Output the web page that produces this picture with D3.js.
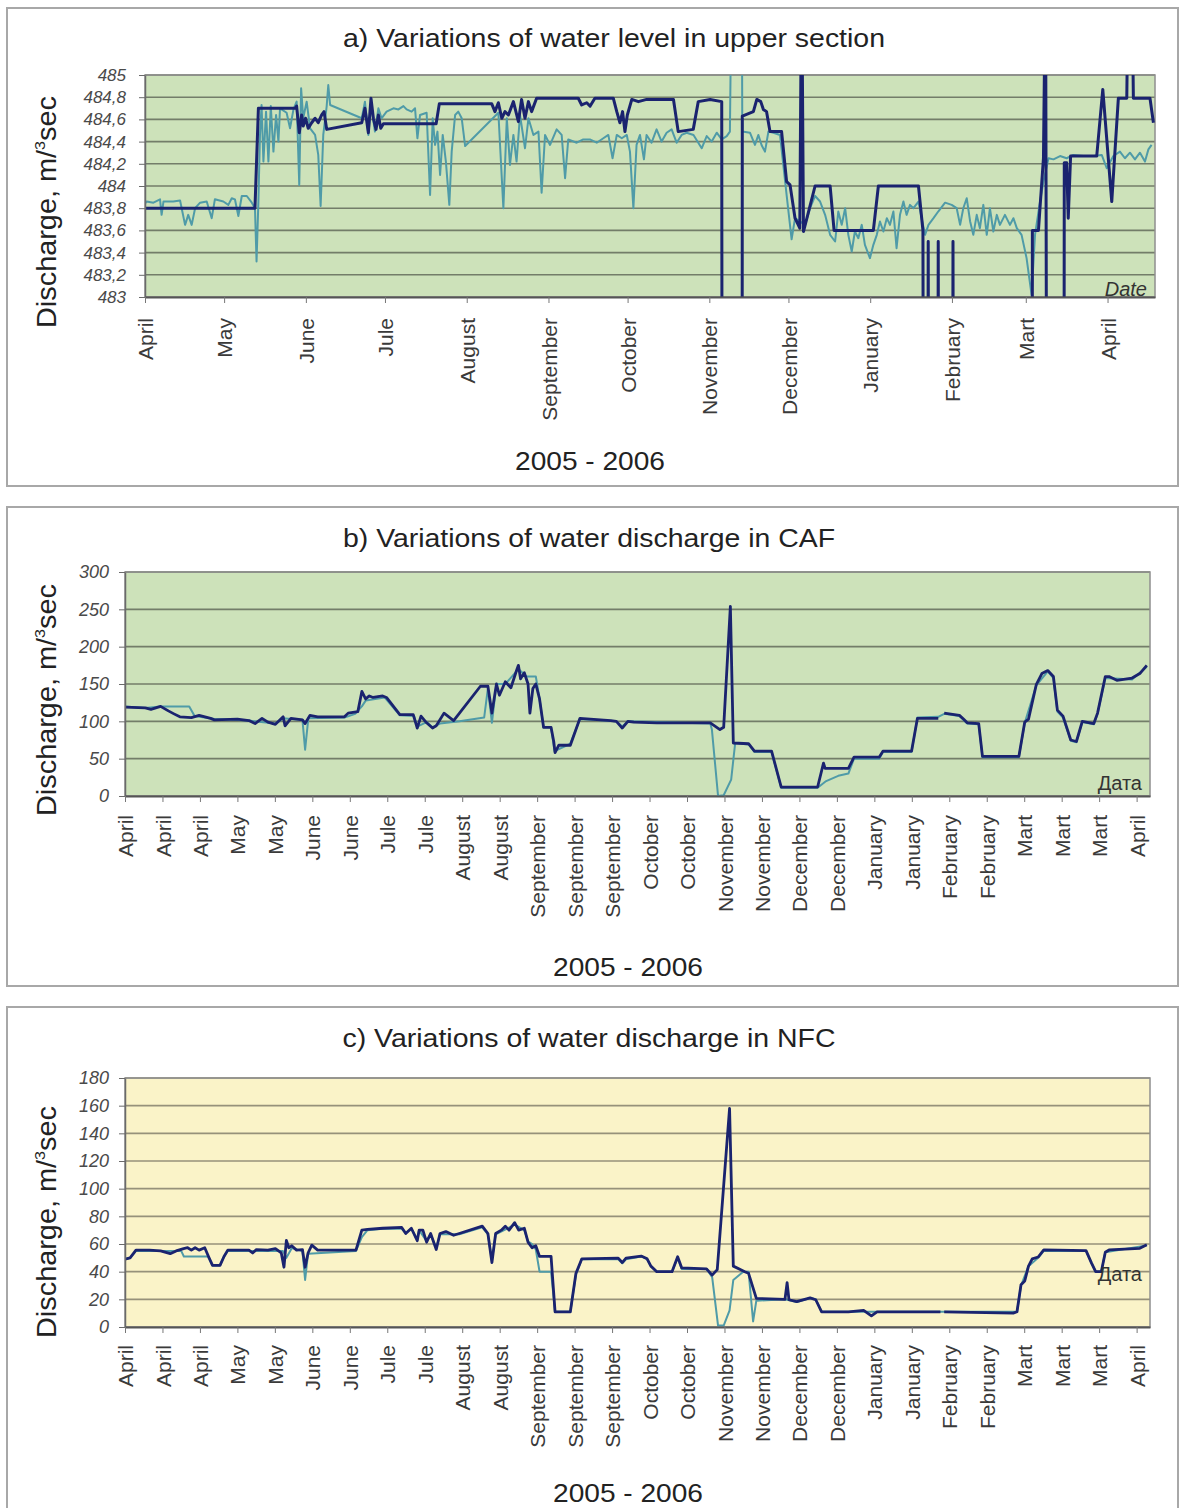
<!DOCTYPE html>
<html><head><meta charset="utf-8">
<script src="https://cdn.jsdelivr.net/npm/d3@7"></script>
<style>
body{margin:0;background:#fff}
text{font-family:"Liberation Sans",Arial,Helvetica,sans-serif}
</style>
</head><body>
<svg id="chart" width="1181" height="1508"></svg>
<script>
// ---------- DATA (day offset from 1 April 2005, value) ----------
const levelNavy = [[0,483.8],[41.7,483.8],[43.0,484.70],[56.9,484.70],[57.5,484.72],[58.5,484.48],[59.4,484.64],[60.0,484.54],[60.9,484.61],[61.9,484.52],[63.2,484.57],[64.5,484.61],[65.7,484.57],[67.0,484.64],[67.9,484.67],[68.9,484.51],[82.2,484.57],[83.4,484.70],[84.7,484.48],[85.7,484.79],[86.6,484.61],[87.6,484.51],[88.5,484.64],[89.4,484.52],[90.4,484.56],[110.4,484.56],[111.6,484.74],[131.5,484.74],[132.7,484.67],[134.0,484.75],[135.3,484.61],[136.5,484.67],[137.8,484.64],[139.7,484.76],[141.6,484.58],[142.8,484.78],[144.1,484.61],[145.4,484.76],[146.6,484.67],[148.5,484.79],[164.3,484.79],[165.6,484.73],[167.5,484.75],[168.8,484.72],[170.6,484.79],[177.6,484.79],[178.9,484.67],[180.1,484.57],[181.1,484.67],[182.0,484.49],[182.9,484.64],[184.6,484.78],[187.1,484.76],[190.2,484.78],[200.4,484.78],[202.2,484.49],[207.9,484.51],[209.8,484.76],[214.3,484.78],[218.7,484.76],[219.3,470],[226.2,470],[226.5,484.63],[230.7,484.67],[232.0,484.78],[233.5,484.76],[234.5,484.69],[235.7,484.67],[237.0,484.49],[241.4,484.49],[243.3,484.04],[244.6,484.01],[246.5,483.71],[248.3,483.62],[249.0,486],[249.7,483.59],[254.1,484.0],[259.8,484.0],[261.3,483.6],[276.2,483.6],[278.1,484.0],[293.3,484.0],[295.0,483.6],[296.0,470],[297.0,483.5],[298.0,470],[299.8,470],[300.8,483.5],[301.6,470],[305.5,470],[306.4,483.5],[307.2,470],[336.2,470],[336.5,483.6],[338.8,483.6],[340.7,484.25],[341.5,486],[343.0,470],[348.0,470],[348.6,484.21],[349.5,484.21],[350.1,483.71],[351.0,484.27],[360.9,484.27],[363.2,484.87],[366.6,483.86],[369.1,484.79],[372.3,484.79],[372.9,486],[374.2,486],[374.8,484.79],[381.1,484.79],[382.4,484.57]];

const levelTeal = [[0,483.84],[0.6,483.86],[3.2,483.85],[5.7,483.88],[6.3,483.74],[7.0,483.86],[10.7,483.86],[13.3,483.87],[15.2,483.65],[16.4,483.74],[17.7,483.65],[19.0,483.80],[20.9,483.85],[23.4,483.86],[25.3,483.71],[26.5,483.88],[29.7,483.86],[31.6,483.83],[32.9,483.89],[34.1,483.88],[35.4,483.73],[36.7,483.91],[38.6,483.91],[40.5,483.85],[41.7,483.80],[42.3,483.32],[43.0,483.86],[43.6,484.46],[44.2,484.73],[44.9,484.22],[45.9,484.67],[46.8,484.22],[47.7,484.72],[48.7,484.31],[49.7,484.64],[50.6,484.40],[51.2,484.70],[53.7,484.66],[55.0,484.52],[56.3,484.69],[57.5,484.76],[58.5,484.01],[59.2,484.88],[60.0,484.61],[61.3,484.76],[62.6,484.52],[64.5,484.46],[65.7,484.28],[66.6,483.82],[67.6,484.46],[68.9,484.72],[69.5,484.91],[70.2,484.73],[82.2,484.61],[83.4,484.76],[84.7,484.46],[85.7,484.73],[87.2,484.49],[88.5,484.70],[89.7,484.61],[91.6,484.67],[94.2,484.70],[96.1,484.69],[98.0,484.72],[99.2,484.69],[101.1,484.67],[102.4,484.70],[103.3,484.43],[104.3,484.64],[106.8,484.66],[108.1,483.92],[109.1,484.61],[110.0,484.37],[110.9,484.49],[111.9,484.10],[112.9,484.46],[114.1,484.22],[115.4,483.83],[116.3,484.31],[117.6,484.64],[118.8,484.67],[120.1,484.61],[121.4,484.36],[134.0,484.66],[135.9,483.80],[137.2,484.61],[138.4,484.19],[139.7,484.46],[140.9,484.22],[142.2,484.64],[144.1,484.34],[145.4,484.61],[147.3,484.46],[149.2,484.49],[150.4,483.94],[151.7,484.46],[153.6,484.37],[156.1,484.51],[158.0,484.46],[159.3,484.07],[160.5,484.42],[163.7,484.39],[166.2,484.42],[168.7,484.42],[171.3,484.39],[173.8,484.43],[175.7,484.46],[177.3,484.25],[178.9,484.46],[180.8,484.43],[182.7,484.46],[183.9,484.31],[185.2,483.80],[186.4,484.37],[187.7,484.46],[189.2,484.24],[190.2,484.46],[192.1,484.39],[194.0,484.51],[195.9,484.40],[197.8,484.48],[199.7,484.51],[201.6,484.39],[203.5,484.46],[205.4,484.48],[208.0,484.46],[211.1,484.34],[213.0,484.45],[214.9,484.40],[216.8,484.48],[218.7,484.42],[220.6,484.45],[221.8,484.49],[222.5,486],[226.3,486],[226.5,484.49],[229.4,484.48],[231.3,484.37],[232.6,484.46],[233.8,484.37],[235.1,484.31],[236.4,484.49],[238.3,484.48],[240.8,484.46],[243.3,483.92],[245.2,483.52],[246.5,483.71],[250.3,483.65],[252.2,483.80],[254.1,483.91],[256.0,483.86],[257.9,483.74],[259.8,483.56],[261.7,483.50],[262.9,483.77],[264.2,483.65],[265.5,483.80],[266.7,483.56],[268.0,483.41],[269.2,483.59],[270.5,483.53],[271.8,483.65],[273.0,483.47],[274.9,483.35],[276.2,483.47],[277.5,483.56],[278.7,483.68],[280.0,483.59],[281.3,483.71],[282.5,483.65],[283.8,483.77],[285.0,483.44],[286.3,483.74],[287.6,483.86],[288.8,483.74],[290.1,483.83],[291.4,483.80],[293.3,483.86],[294.5,483.71],[295.8,483.56],[297.1,483.65],[299.0,483.71],[300.8,483.77],[303.4,483.85],[305.9,483.83],[307.8,483.80],[309.1,483.65],[310.3,483.80],[311.6,483.89],[312.9,483.68],[314.1,483.56],[315.4,483.74],[316.6,483.62],[317.9,483.83],[319.2,483.56],[320.4,483.80],[321.7,483.59],[323.0,483.74],[324.2,483.65],[326.1,483.74],[328.0,483.65],[329.3,483.71],[330.6,483.62],[332.4,483.56],[334.3,483.35],[336.2,483.02],[337.5,483.56],[339.4,483.86],[340.7,484.04],[342.6,484.25],[344.5,484.24],[347.0,484.27],[349.5,484.25],[352.0,484.28],[355.8,484.27],[359.6,484.27],[362.8,484.28],[364.7,484.16],[367.2,484.27],[369.7,484.31],[371.6,484.25],[373.5,484.30],[375.4,484.24],[377.3,484.30],[379.2,484.22],[380.5,484.33],[381.7,484.37]];

const cafNavy = [[0,119],[7.6,118],[9.7,116],[13.3,120],[16.2,114],[18.3,110],[20.5,106],[24.8,105],[27.7,108],[32.0,104],[33.4,102],[42.0,103],[46.3,101],[48.6,97],[51.2,104],[53.4,99],[56.2,96],[59.1,106],[59.8,94],[62.0,104],[66.3,102],[67.3,97],[69.1,108],[72.0,106],[82.0,106],[83.4,111],[87.0,113],[88.5,140],[89.9,130],[91.3,134],[92.7,132],[96.3,134],[97.7,132],[102.7,109],[107.7,109],[109.2,91],[110.6,107],[112.7,98],[114.9,91],[116.3,94],[119.2,111],[122.8,101],[132.8,147],[135.6,147],[137.1,111],[138.8,150],[139.9,135],[142.1,153],[144.2,145],[146.3,168],[147.0,175],[147.8,157],[149.2,165],[150.6,150],[151.3,111],[152.4,144],[153.5,150],[154.9,130],[156.4,92],[159.2,92],[160.2,73],[160.7,58],[162.1,68],[166.4,68],[170.0,104],[181.5,101],[183.6,100],[185.8,91],[187.9,100],[190.1,99],[198.7,98],[218.7,98],[222.3,89],[223.7,92],[226.2,254],[227.3,71],[233.0,70],[235.2,60],[241.6,60],[245.2,12],[258.8,12],[261.0,44],[261.6,37],[270.3,37],[272.4,52],[281.8,52],[283.2,60],[293.9,60],[296.1,104],[303.9,104],[304.6,null],[306.1,111],[311.8,108],[313.3,103],[314.7,98],[319.0,97],[320.4,53],[334.0,53],[336.2,99],[337.6,103],[340.5,149],[342.6,164],[344.8,168],[346.9,160],[348.4,115],[350.5,107],[353.4,75],[355.5,73],[357.7,100],[362.0,97],[363.4,111],[366.3,160],[367.7,160],[370.6,155],[376.3,158],[379.2,164],[381.8,175]];

const cafTeal = [[0,120],[7.6,118],[13.3,120],[24,120],[26,107],[33.4,103],[46.3,101],[56.2,97],[59.1,104],[62,103],[66.3,102],[67.3,62],[68.5,104],[82,105],[86,110],[88.5,120],[90,128],[97,132],[102.7,108],[108,107],[109.2,93],[112.7,99],[114.9,92],[117.7,97],[125,100],[134.2,105],[135.6,144],[137.1,98],[138.8,150],[142.1,150],[147,170],[150,160],[153.5,160],[154.9,130],[156.4,92],[159.2,92],[160.5,60],[166.4,70],[170,103],[183.6,100],[185.8,93],[187.9,100],[218.7,97],[219.3,89],[221.6,0],[223.7,1],[226.5,22],[228,71],[233,69],[235.2,59],[241.6,59],[245.2,11],[258.8,11],[262,20],[266.5,27],[270.3,30],[272.4,50],[281.8,50],[283.2,59],[293.9,59],[296.1,105],[303.9,106],[306.1,110],[311.8,107],[314.7,97],[319,96],[320.4,52],[334,52],[336.2,98],[340.5,148],[344.8,167],[346.9,158],[348.4,113],[350.5,105],[353.4,74],[355.5,72],[357.7,99],[362,96],[363.4,110],[366.3,158],[376.3,156],[381.8,173]];

const nfcNavy = [[0,49],[1.9,50],[4.1,55.6],[9.1,55.6],[13.3,55],[16.9,53],[19.1,55],[21.9,56.7],[23.4,57.3],[24.8,55.6],[26.2,57.3],[27.7,55.6],[29.8,57.3],[31.2,51],[32.7,44.5],[35.5,44.5],[37.0,51],[38.4,55.6],[46.3,55.6],[47.7,53.5],[49.1,56],[53.4,55.6],[56.2,56.7],[58.4,53.5],[59.4,43.2],[60.3,62.6],[61.2,57.3],[62.3,58.7],[64.1,55.6],[66.3,56],[67.3,43.2],[68.4,53.5],[69.8,59.2],[72.0,55.6],[86.3,55.6],[88.5,70.1],[90.6,70.6],[96.3,71.4],[103.4,72],[104.9,67.6],[107.0,71.4],[109.2,62.4],[109.9,70],[111.3,70],[112.7,61.3],[114.2,67.6],[116.3,56],[117.7,67.6],[119.9,69],[122.8,66.3],[124.9,67.6],[133.5,72.9],[135.6,67.6],[137.1,46.6],[138.5,67.6],[140.6,70],[142.1,72.9],[143.5,70],[145.6,75.4],[147.1,70],[149.2,71.4],[150.6,61.3],[152.1,57.3],[153.5,58.7],[154.9,51],[159.2,51],[160.7,11],[166.4,11],[168.5,38.8],[170.7,49.3],[184.3,49.8],[185.8,46.6],[187.2,49.8],[192.9,51.3],[195.1,49.3],[196.5,44],[198.7,40],[204.4,40],[206.5,50.8],[208.0,42.8],[217.3,42],[219.4,37.5],[221.3,41.5],[225.9,158],[227.3,44],[231.6,40],[233.0,38.8],[235.9,20.7],[246.6,20],[247.4,32],[248.1,19.7],[251.0,18.3],[256.0,21],[258.1,19.7],[260.3,11],[270.3,11],[276.0,12],[278.9,8],[281.0,11],[304.7,11],[305.4,null],[306.1,11],[331.9,10],[333.3,11],[334.8,30.6],[336.2,33.3],[337.6,44],[339.0,49.3],[341.2,50.6],[343.3,55.7],[359.1,55.2],[361.2,46],[362.7,40],[364.8,40],[366.3,54],[367.7,55.7],[379.2,56.9],[381.8,59.4]];

const nfcTeal = [[0,49],[1.9,50],[4.1,55],[21,55],[22,51],[31,51],[32.7,44.5],[35.5,44.5],[37,51],[38.4,55],[59,55],[60.3,50],[62.3,57],[66.3,55],[67.3,34],[68.4,53],[86.3,55],[88.5,65],[90.6,70],[96.3,71],[103.4,71],[104.9,68],[107,71],[109.2,63],[109.9,70],[112.7,62],[114.2,67],[116.3,57],[117.7,67],[124.9,67],[133.5,72],[135.6,67],[137.1,48],[138.5,67],[145.6,74],[149.2,70],[150.6,62],[152.1,60],[153.5,56],[154.9,40],[159.2,40],[160.7,11],[166.4,11],[168.5,38],[170.7,49],[184.3,49],[185.8,46],[187.2,49],[192.9,51],[195.1,49],[196.5,44],[198.7,40],[204.4,40],[206.5,50],[208,42],[217.3,42],[219.4,36],[221.6,1],[223.7,1],[225.9,12],[227.3,34],[231,40],[233,40],[234.7,4],[235.9,19],[246.6,20],[251,18],[256,21],[258.1,20],[260.3,11],[281,11],[333.3,11],[334.8,30],[337.6,44],[341.2,50],[343.3,55],[359.1,55],[361.2,46],[362.7,40],[364.8,40],[366.3,54],[381.8,59]];

const monthLabelsA = ["April","May","June","Jule","August","September","October","November","December","January","February","Mart","April"];
const labelsBC = ["April","April","April","May","May","June","June","Jule","Jule","August","August","September","September","September","October","October","November","November","December","December","January","January","February","February","Mart","Mart","Mart","April"];
const yTicksA = d3.range(0, 11).map(i => 483 + i * 0.2);
const yTicksB = d3.range(0, 301, 50);
const yTicksC = d3.range(0, 181, 20);
const titles = ["a) Variations of water level in upper section", "b) Variations of water discharge in CAF", "c) Variations of water discharge in NFC"];
const yearLabel = "2005 - 2006";

// ---------- helpers ----------
const DAYS = 383;
const t0 = Date.UTC(2005, 3, 1);
const toDate = d => new Date(t0 + d * 864e5);
const svg = d3.select("#chart");
svg.append("rect").attr("width",1181).attr("height",1508).attr("fill","#fff");

const NAVY = "#1a236f", TEAL = "#4f9ba8";

function commaFmt(v){
  const r = Math.round(v*10);
  return r % 10 === 0 ? String(r/10) : (r/10).toFixed(1).replace(".", ",");
}

function panel(o){
  const g = svg.append("g");
  g.append("rect").attr("x",7).attr("y",o.frameTop).attr("width",1171).attr("height",o.frameH)
    .attr("fill","#fff").attr("stroke","#a8a8a8").attr("stroke-width",2);

  const x = d3.scaleUtc().domain([toDate(0), toDate(DAYS)]).range([o.left, o.right]);
  const y = d3.scaleLinear().domain(o.yDomain).range([o.bottom, o.top]);

  g.append("rect").attr("x",o.left).attr("y",o.top).attr("width",o.right-o.left).attr("height",o.bottom-o.top)
    .attr("fill",o.bg);
  g.append("g").selectAll("line").data(o.yTicks).join("line")
    .attr("x1",o.left).attr("x2",o.right).attr("y1",d=>y(d)).attr("y2",d=>y(d))
    .attr("stroke",o.grid).attr("stroke-width",1.6);
  g.append("rect").attr("x",o.left).attr("y",o.top).attr("width",o.right-o.left).attr("height",o.bottom-o.top)
    .attr("fill","none").attr("stroke","#8f8f8f").attr("stroke-width",1.5);

  const cid = "clip" + o.id;
  svg.append("clipPath").attr("id",cid).append("rect")
    .attr("x",o.left).attr("y",o.top).attr("width",o.right-o.left).attr("height",o.bottom-o.top+1);
  const line = d3.line().defined(d => d[1] != null).x(d => x(toDate(d[0]))).y(d => y(d[1]));
  const lg = g.append("g").attr("clip-path",`url(#${cid})`);
  lg.append("path").attr("d", line(o.teal)).attr("fill","none").attr("stroke",TEAL)
    .attr("stroke-width",o.tealW).attr("stroke-linejoin","round");
  lg.append("path").attr("d", line(o.navy)).attr("fill","none").attr("stroke",NAVY)
    .attr("stroke-width",o.navyW).attr("stroke-linejoin","round");

  // y axis
  const ya = g.append("g").attr("transform",`translate(${o.left},0)`)
    .call(d3.axisLeft(y).tickValues(o.yTicks).tickFormat(o.yFmt).tickSizeInner(6).tickSizeOuter(0).tickPadding(o.yPad));
  ya.select(".domain").attr("stroke","#6a6a6a").attr("stroke-width",1.5);
  ya.selectAll(".tick line").attr("stroke","#6a6a6a");
  ya.selectAll("text").attr("font-size",o.yFont).attr("font-style","italic").attr("fill","#4a4a4a");

  // x axis
  const xa = g.append("g").attr("transform",`translate(0,${o.bottom})`)
    .call(d3.axisBottom(x).tickValues(o.xTicks.map(toDate)).tickFormat((d,i)=>o.xLabels[i]).tickSizeInner(6).tickSizeOuter(0));
  xa.select(".domain").attr("stroke","#555").attr("stroke-width",2);
  xa.selectAll(".tick line").attr("stroke","#777");
  xa.selectAll("text").attr("transform","rotate(-90)").attr("text-anchor","end")
    .attr("x",-o.xPad).attr("y",0).attr("dy","0.36em").attr("font-size",21).attr("fill","#3a3a3a");

  // titles
  g.append("text").attr("x",o.titleX).attr("y",o.titleY).attr("text-anchor","middle")
    .attr("font-size",26).attr("fill","#222").attr("textLength",o.titleW).attr("lengthAdjust","spacingAndGlyphs")
    .text(o.title);
  g.append("text").attr("x",o.yearX).attr("y",o.yearY).attr("text-anchor","middle")
    .attr("font-size",26).attr("fill","#222").attr("textLength",150).attr("lengthAdjust","spacingAndGlyphs")
    .text(yearLabel);
  const yt = g.append("text").attr("transform",`translate(56,${o.yTitleY}) rotate(-90)`)
    .attr("text-anchor","middle").attr("font-size",27).attr("fill","#222")
    .attr("textLength",232).attr("lengthAdjust","spacingAndGlyphs");
  yt.append("tspan").text("Discharge, m/");
  yt.append("tspan").attr("font-size",15).attr("dy",-11).text("3");
  yt.append("tspan").attr("dy",11).text("sec");

  g.append("text").attr("x",o.right-8).attr("y",o.cornerY).attr("text-anchor","end")
    .attr("font-size",20).attr("font-style",o.cornerItalic?"italic":"normal").attr("fill","#333")
    .text(o.corner);
}

panel({id:"a", frameTop:8, frameH:478, left:145, right:1155, top:75, bottom:297,
  yDomain:[483,485], yTicks:yTicksA, yFmt:commaFmt, yPad:13, yFont:17, bg:"#cde2ba", grid:"#737d69",
  teal:levelTeal, navy:levelNavy, tealW:2, navyW:3,
  xTicks:[0,30,61,91,122,153,183,214,244,275,306,334,365], xLabels:monthLabelsA, xPad:21,
  title:titles[0], titleX:614, titleY:47, titleW:542, yearX:590, yearY:470, yTitleY:212,
  corner:"Date", cornerItalic:true, cornerY:296});

panel({id:"b", frameTop:507, frameH:479, left:125, right:1150, top:572, bottom:796,
  yDomain:[0,300], yTicks:yTicksB, yFmt:d3.format("d"), yPad:10, yFont:18, bg:"#cde2ba", grid:"#737d69",
  teal:cafTeal, navy:cafNavy, tealW:2, navyW:2.8,
  xTicks:d3.range(0,379,14), xLabels:labelsBC, xPad:19,
  title:titles[1], titleX:589, titleY:547, titleW:492, yearX:628, yearY:976, yTitleY:700,
  corner:"Дата", cornerItalic:false, cornerY:790});

panel({id:"c", frameTop:1007, frameH:520, left:125, right:1150, top:1078, bottom:1327,
  yDomain:[0,180], yTicks:yTicksC, yFmt:d3.format("d"), yPad:10, yFont:18, bg:"#faf3c8", grid:"#96917a",
  teal:nfcTeal, navy:nfcNavy, tealW:2, navyW:2.8,
  xTicks:d3.range(0,379,14), xLabels:labelsBC, xPad:18,
  title:titles[2], titleX:589, titleY:1047, titleW:493, yearX:628, yearY:1502, yTitleY:1222,
  corner:"Дата", cornerItalic:false, cornerY:1281});
</script>
</body></html>
